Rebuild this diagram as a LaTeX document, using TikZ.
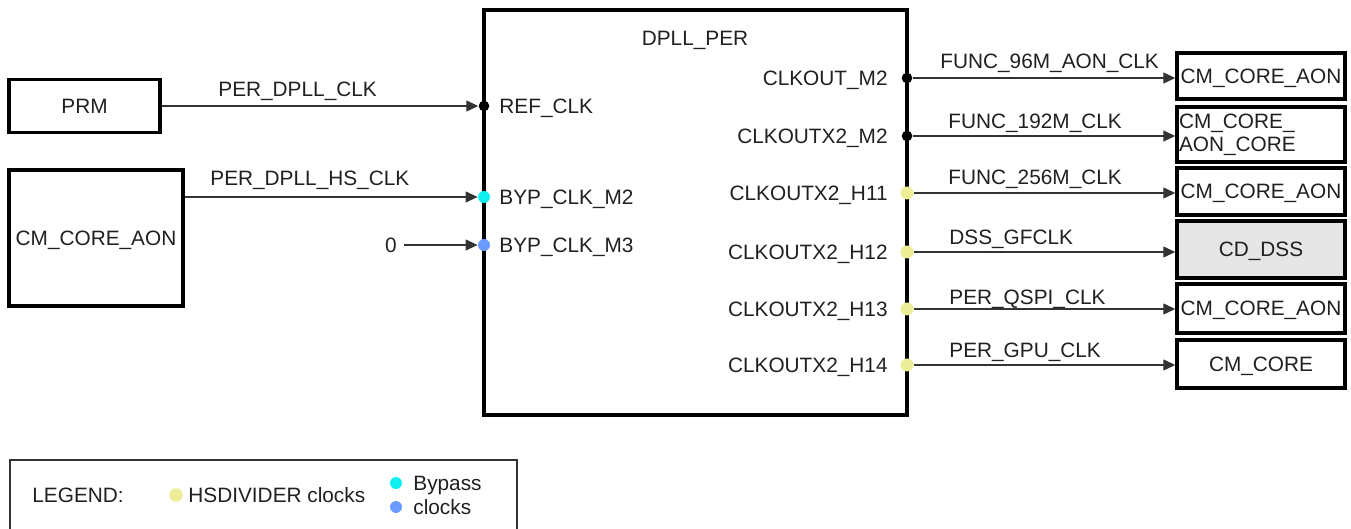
\documentclass[tikz,border=0pt]{standalone}
\usepackage{fontspec}
\setmainfont{Liberation Sans}
\usetikzlibrary{arrows.meta}
\definecolor{txt}{HTML}{231F20}
\definecolor{ln}{HTML}{333333}
\definecolor{hsd}{HTML}{EEEE99}
\definecolor{bypa}{HTML}{10F0F0}
\definecolor{bypb}{HTML}{6A9AFF}
\definecolor{dssfill}{HTML}{E6E6E6}
\begin{document}
\begin{tikzpicture}[x=0.5pt,y=-0.5pt,
  every node/.style={font=\fontsize{10.4}{12}\selectfont, text=txt, inner sep=0pt, text depth=0pt},
  blk/.style={draw=black, line width=1.7pt, align=center},
  conn/.style={draw=ln, line width=0.6pt, -{Triangle[length=6pt,width=5.5pt]}},
  lbl/.style={anchor=west},
  dot/.style={circle, minimum size=6.5pt, inner sep=0pt, fill=#1}]
\useasboundingbox (0,0) rectangle (1351,529);

% main DPLL box
\node[blk, minimum width=211.5pt, minimum height=202.5pt] (dpll) at (695.5,212.5) {};
\node (title) at (695,38) {DPLL\_PER};

% left source boxes
\node[blk, minimum width=75.5pt, minimum height=26.5pt] (prm) at (84.5,106) {PRM};
\node[blk, minimum width=87pt, minimum height=68pt] (cml) at (96,238) {CM\_CORE\_AON};
\node (zero) at (391,245) {0};

% right destination boxes
\node[blk, minimum width=84pt, minimum height=23pt] (b1) at (1261,76) {CM\_CORE\_AON};
\node[blk, text depth={}, text width=82pt, inner xsep=1pt, minimum height=27.5pt, align=left,
      font=\fontsize{10.4}{11.5}\selectfont] (b2) at (1261,134.5) {CM\_CORE\_\\AON\_CORE};
\node[blk, minimum width=84pt, minimum height=23.5pt] (b3) at (1261,191.5) {CM\_CORE\_AON};
\node[blk, fill=dssfill, minimum width=84pt, minimum height=28.5pt] (b4) at (1261,249.5) {CD\_DSS};
\node[blk, minimum width=84pt, minimum height=24.5pt] (b5) at (1261,308.5) {CM\_CORE\_AON};
\node[blk, minimum width=84pt, minimum height=24pt] (b6) at (1261,364) {CM\_CORE};

% input ports
\node[dot=black, minimum size=5.3pt] (pref) at (484,106) {};
\node[dot=bypa, minimum size=6pt] (pbyp2) at (484,197) {};
\node[dot=bypb, minimum size=6pt] (pbyp3) at (484,245) {};
\node[lbl] (lref) at (499,106) {REF\_CLK};
\node[lbl] (lbyp2) at (499,197) {BYP\_CLK\_M2};
\node[lbl] (lbyp3) at (499,245) {BYP\_CLK\_M3};

% output ports
\node[dot=black, minimum size=5.3pt] (p1) at (907,78) {};
\node[dot=black, minimum size=5.3pt] (p2) at (907,136) {};
\node[dot=hsd] (p3) at (907,193) {};
\node[dot=hsd] (p4) at (907,252) {};
\node[dot=hsd] (p5) at (907,309) {};
\node[dot=hsd] (p6) at (907,365) {};
\node[anchor=east] (l1) at (888,78) {CLKOUT\_M2};
\node[anchor=east] (l2) at (888,136) {CLKOUTX2\_M2};
\node[anchor=east] (l3) at (888,193) {CLKOUTX2\_H11};
\node[anchor=east] (l4) at (888,252) {CLKOUTX2\_H12};
\node[anchor=east] (l5) at (888,309) {CLKOUTX2\_H13};
\node[anchor=east] (l6) at (888,365) {CLKOUTX2\_H14};

% input connectors
\draw[conn] (prm.east) -- (pref.west);
\draw[conn] (pbyp2 -| cml.east) -- (pbyp2.west);
\draw[conn] (zero.east) ++(7,0) -- (pbyp3.west);
\node[lbl] (n1) at (218,89) {PER\_DPLL\_CLK};
\node[lbl] (n2) at (210,178) {PER\_DPLL\_HS\_CLK};

% output connectors
\draw[conn] (p1.east) -- (p1 -| b1.west);
\draw[conn] (p2.east) -- (p2 -| b2.west);
\draw[conn] (p3.east) -- (p3 -| b3.west);
\draw[conn] (p4.east) -- (p4 -| b4.west);
\draw[conn] (p5.east) -- (p5 -| b5.west);
\draw[conn] (p6.east) -- (p6 -| b6.west);
\node[lbl] (o1) at (940,61) {FUNC\_96M\_AON\_CLK};
\node[lbl] (o2) at (948,121) {FUNC\_192M\_CLK};
\node[lbl] (o3) at (948,177) {FUNC\_256M\_CLK};
\node[lbl] (o4) at (949,237) {DSS\_GFCLK};
\node[lbl] (o5) at (949,297) {PER\_QSPI\_CLK};
\node[lbl] (o6) at (949,350) {PER\_GPU\_CLK};

% legend
\draw[ln, line width=0.6pt] (10,540) |- (517,460) -- (517,540);
\node[lbl] (leg) at (32,495) {LEGEND:};
\node[dot=hsd, minimum size=6.8pt] (lgd1) at (176,495) {};
\node[lbl] (lgt1) at (188,495) {HSDIVIDER clocks};
\node[dot=bypa, minimum size=6pt] (lgd2) at (396,483) {};
\node[dot=bypb, minimum size=6pt] (lgd3) at (396,507) {};
\node[lbl] (lgt2) at (413,483) {Bypass};
\node[lbl] (lgt3) at (413,507) {clocks};
\end{tikzpicture}
\end{document}
